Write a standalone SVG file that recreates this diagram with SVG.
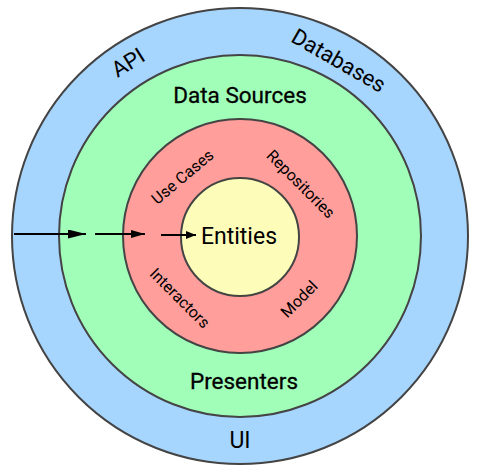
<svg xmlns="http://www.w3.org/2000/svg" width="478" height="473" viewBox="0 0 478 473">
<style>
.ring{stroke:#444;stroke-width:2}
.t{font-family:Roboto,"Liberation Sans",sans-serif;fill:#000;text-anchor:middle}
.big{font-size:22.5px}
.mid{font-size:22px}
.sm{font-size:16px}
.arr{stroke:#000;stroke-width:2;fill:none}
</style>
<defs>
<marker id="ah" viewBox="0 0 10 10" refX="10" refY="5" markerUnits="userSpaceOnUse" markerWidth="18" markerHeight="9" orient="auto" preserveAspectRatio="none">
<path d="M0,0 L10,5 L0,10 z" fill="#000"/>
</marker>
<marker id="ah2" viewBox="0 0 10 10" refX="10" refY="5" markerUnits="userSpaceOnUse" markerWidth="14" markerHeight="8" orient="auto" preserveAspectRatio="none">
<path d="M0,0 L10,5 L0,10 z" fill="#000"/>
</marker>
<marker id="ah3" viewBox="0 0 10 10" refX="10" refY="5" markerUnits="userSpaceOnUse" markerWidth="10" markerHeight="8" orient="auto" preserveAspectRatio="none">
<path d="M0,0 L10,5 L0,10 z" fill="#000"/>
</marker>
</defs>
<g id="outer">
<circle class="ring" cx="240" cy="236" r="228" fill="#a6d5fe"/>
<text class="t mid" transform="translate(132,69) rotate(-32)">API</text>
<text class="t mid" transform="translate(335,67) rotate(30)">Databases</text>
<text class="t mid" style="font-size:23px" x="240" y="448">UI</text>
</g>
<g id="green">
<circle class="ring" cx="240" cy="236" r="181" fill="#a0feb9"/>
<text class="t big" x="240" y="103" stroke="#000" stroke-width="0.3">Data Sources</text>
<text class="t big" x="244" y="389" stroke="#000" stroke-width="0.3">Presenters</text>
</g>
<g id="red">
<circle class="ring" cx="240" cy="236" r="117" fill="#ff9e9a"/>
<text class="t sm" transform="translate(186,181) rotate(-40)">Use Cases</text>
<text class="t sm" transform="translate(297,188) rotate(45)">Repositories</text>
<text class="t sm" transform="translate(176,302) rotate(45)">Interactors</text>
<text class="t sm" transform="translate(303,303) rotate(-45)">Model</text>
</g>
<g id="entities">
<circle class="ring" cx="240" cy="237" r="59" fill="#fdfdb9"/>
<text class="t" style="font-size:23px" x="239" y="244">Entities</text>
</g>
<g id="connectors">
<line class="arr" x1="14" y1="234" x2="86" y2="234" marker-end="url(#ah)"/>
<line class="arr" x1="95" y1="234" x2="145" y2="234" marker-end="url(#ah2)"/>
<line class="arr" x1="161" y1="235" x2="196" y2="235" marker-end="url(#ah3)"/>
</g>
</svg>
